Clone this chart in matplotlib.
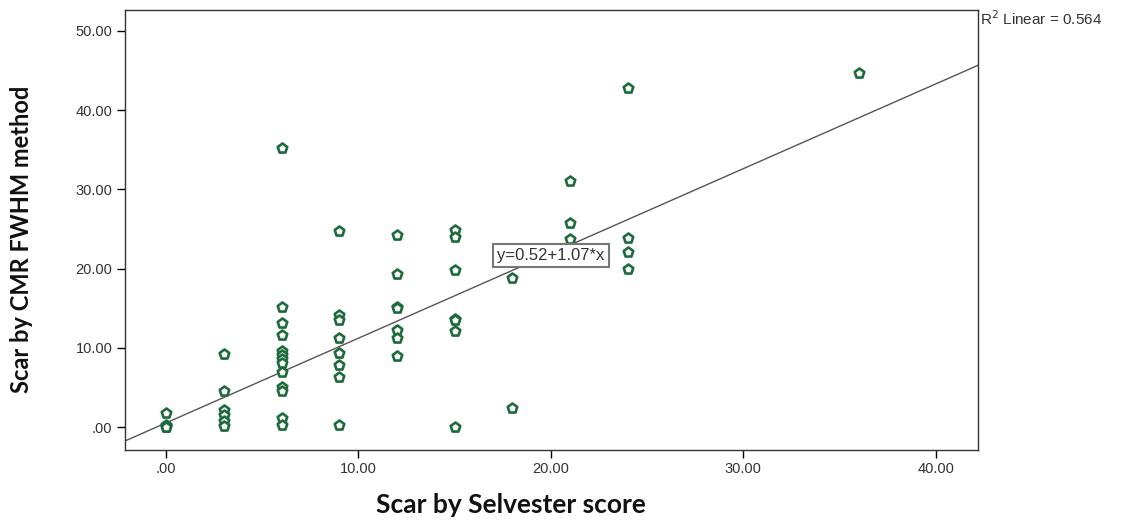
import numpy as np
import matplotlib
matplotlib.use("Agg")
import matplotlib.pyplot as plt
import matplotlib.ticker as ticker

# Selvester score (x) vs CMR FWHM scar (y)
selvester = [0, 0, 0, 0, 0,
             3, 3, 3, 3, 3, 3,
             6, 6, 6, 6, 6, 6, 6, 6, 6, 6, 6, 6, 6,
             9, 9, 9, 9, 9, 9, 9, 9,
             12, 12, 12, 12, 12, 12, 12,
             15, 15, 15, 15, 15, 15, 15,
             18, 18,
             21, 21, 21,
             24, 24, 24, 24,
             36]
cmr_fwhm = [1.8, 0.3, 0.1, 0.0, 0.0,
            9.2, 4.6, 2.2, 1.5, 0.8, 0.1,
            35.2, 15.1, 13.1, 11.6, 9.6, 9.1, 8.6, 8.1, 7.0, 5.0, 4.6, 1.2, 0.2,
            24.7, 14.1, 13.5, 11.2, 9.3, 7.8, 6.3, 0.2,
            24.3, 19.3, 15.1, 15.0, 12.2, 11.2, 9.0,
            24.9, 24.0, 19.8, 13.7, 13.5, 12.1, 0.0,
            18.8, 2.4,
            31.1, 25.7, 23.8,
            42.8, 23.9, 22.1, 20.0,
            44.7]

intercept = 0.52
slope = 1.07
r2 = 0.564

green = '#1d6b3c'

fig = plt.figure(figsize=(11.42, 5.21), dpi=100)
ax = fig.add_axes([0.1095, 0.1363, 0.747, 0.8445])

ax.scatter(selvester, cmr_fwhm, marker='p', s=52, facecolor='white',
           edgecolor=green, linewidths=1.9, zorder=3)

xlim = (-2.13, 42.2)
xs = np.array(xlim)
ax.plot(xs, intercept + slope * xs, color='#555555', lw=1.0, zorder=2)

ax.set_xlim(*xlim)
ax.set_ylim(-2.9, 52.65)

fmt = ticker.FuncFormatter(lambda v, p: ('%.2f' % v).lstrip('0') if v == 0 else '%.2f' % v)
ax.xaxis.set_major_locator(ticker.MultipleLocator(10))
ax.yaxis.set_major_locator(ticker.MultipleLocator(10))
ax.xaxis.set_major_formatter(fmt)
ax.yaxis.set_major_formatter(fmt)
ax.tick_params(axis='both', direction='out', length=6, width=1, labelsize=10.5,
               labelcolor='#333333', pad=3)
for lab in ax.get_xticklabels() + ax.get_yticklabels():
    lab.set_family('Liberation Sans')
for sp in ax.spines.values():
    sp.set_color('#333333')
    sp.set_linewidth(1.0)

ax.text(20.0, intercept + slope * 20.0 - 0.3, 'y=0.52+1.07*x', ha='center', va='center',
        fontsize=12, family='Liberation Sans', color='#333333', zorder=4,
        bbox=dict(boxstyle='square,pad=0.25', facecolor='white', edgecolor='#777777', lw=1.5))

fig.text(0.858, 0.965, r'R$^2$ Linear = %.3f' % r2, ha='left', va='center',
         fontsize=11, family='Liberation Sans', color='#333333')

fig.text(0.447, 0.031, 'Scar by Selvester score', ha='center', va='center',
         fontsize=19, fontweight='bold', family='Lato', color='#111111')
fig.text(0.019, 0.54, 'Scar by CMR FWHM method', ha='center', va='center',
         rotation=90, fontsize=17, fontweight='bold', family='Lato', color='#111111')

fig.savefig('out.png', dpi=100)
